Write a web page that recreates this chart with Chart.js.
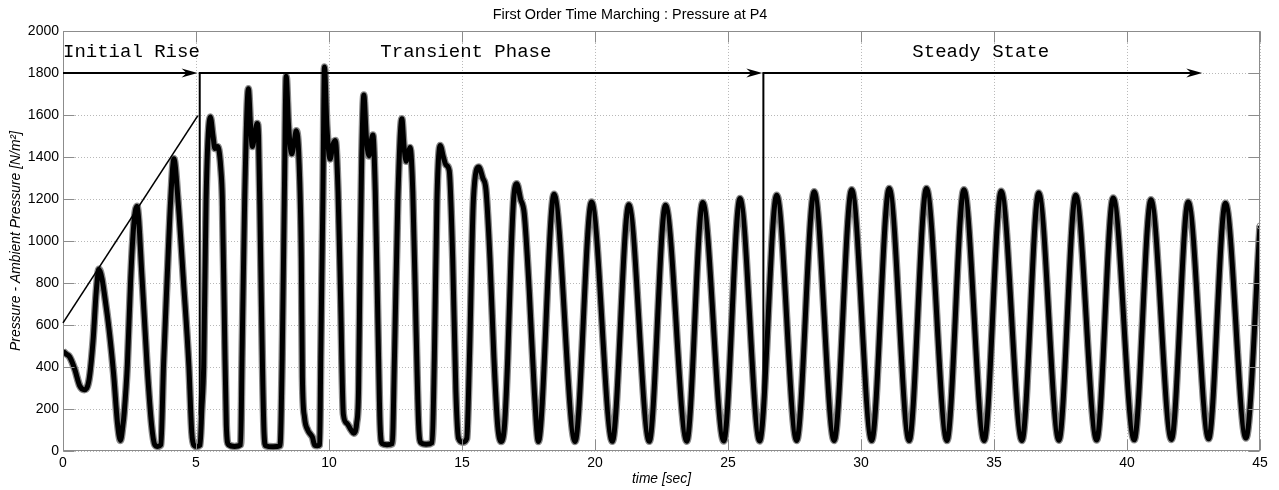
<!DOCTYPE html>
<html>
<head>
<meta charset="utf-8">
<script src="https://cdn.jsdelivr.net/npm/chart.js@4.4.1/dist/chart.umd.min.js"></script>
<style>
html,body{margin:0;padding:0;background:#fff;}
#wrap{width:1279px;height:490px;}
</style>
</head>
<body>
<div id="wrap"><canvas id="c" width="1279" height="490"></canvas></div>
<script>
// ---- data (time in sec, pressure in N/m^2) ----
const time = [
  0.00, 0.12, 0.25, 0.44, 0.63, 0.80, 0.98, 1.13, 1.25, 1.35,
  1.63, 1.90, 2.05, 2.16, 2.25, 2.30, 2.42, 2.54, 2.66, 2.78,
  2.98, 3.16, 3.33, 3.45, 3.56, 3.68, 3.78, 3.91, 4.05, 4.17,
  4.32, 4.53, 4.73, 4.84, 4.92, 5.03, 5.15, 5.22, 5.29, 5.38,
  5.54, 5.64, 5.71, 5.80, 5.86, 5.93, 5.99, 6.07, 6.14, 6.22,
  6.45, 6.68, 6.73, 6.83, 6.97, 7.05, 7.12, 7.20, 7.30, 7.35,
  7.42, 7.50, 7.56, 7.62, 7.90, 8.16, 8.24, 8.32, 8.39, 8.48,
  8.60, 8.70, 8.77, 8.87, 8.96, 9.00, 9.08, 9.20, 9.30, 9.38,
  9.46, 9.56, 9.65, 9.69, 9.77, 9.83, 9.92, 10.04, 10.15, 10.24,
  10.34, 10.43, 10.54, 10.67, 10.83, 10.93, 11.04, 11.11, 11.17, 11.23,
  11.31, 11.40, 11.50, 11.58, 11.65, 11.74, 11.84, 11.92, 12.00, 12.18,
  12.38, 12.46, 12.59, 12.74, 12.82, 12.90, 12.98, 13.05, 13.15, 13.27,
  13.37, 13.45, 13.65, 13.88, 13.96, 14.06, 14.18, 14.30, 14.40, 14.52,
  14.65, 14.77, 14.87, 15.03, 15.18, 15.28, 15.43, 15.63, 15.78, 15.90,
  16.05, 16.20, 16.34, 16.47, 16.60, 16.72, 16.84, 16.94, 17.06, 17.20,
  17.34, 17.53, 17.72, 17.87, 18.46, 19.25, 19.87, 20.65, 21.27, 22.04,
  22.65, 23.45, 24.05, 24.84, 25.45, 26.19, 26.83, 27.58, 28.24, 28.99,
  29.65, 30.40, 31.06, 31.81, 32.46, 33.23, 33.87, 34.63, 35.27, 36.05,
  36.68, 37.44, 38.07, 38.86, 39.48, 40.27, 40.90, 41.67, 42.30, 43.07,
  43.70, 44.47, 45.00
];
const pressure = [
  475, 462, 448, 390, 310, 292, 340, 525, 760, 865,
  680, 370, 130, 50, 120, 180, 410, 806, 1076, 1165,
  806, 410, 124, 30, 22, 30, 410, 806, 1200, 1392,
  1200, 806, 410, 90, 28, 22, 28, 200, 410, 1200,
  1590, 1500, 1440, 1450, 1435, 1350, 1200, 600, 124, 30,
  22, 30, 440, 1200, 1725, 1550, 1450, 1500, 1560, 1500,
  1000, 400, 80, 25, 20, 25, 440, 1200, 1785, 1550,
  1415, 1480, 1525, 1390, 918, 350, 160, 100, 80, 65,
  28, 25, 30, 440, 1200, 1828, 1550, 1390, 1460, 1478,
  1235, 760, 175, 132, 100, 85, 132, 283, 918, 1394,
  1695, 1500, 1405, 1470, 1505, 1235, 600, 124, 35, 30,
  35, 440, 1200, 1582, 1450, 1380, 1420, 1445, 1235, 600,
  124, 40, 32, 40, 440, 1200, 1455, 1400, 1362, 1335,
  918, 283, 60, 42, 60, 440, 1200, 1352, 1300, 1245,
  918, 443, 124, 45, 124, 443, 918, 1200, 1272, 1200,
  1130, 759, 283, 45, 1222, 45, 1186, 46, 1172, 46,
  1170, 47, 1183, 48, 1202, 48, 1218, 50, 1234, 50,
  1244, 50, 1250, 50, 1250, 50, 1244, 50, 1237, 50,
  1228, 51, 1218, 52, 1205, 53, 1196, 55, 1186, 58,
  1180, 62, 1072
];
const xTicks = [0, 5, 10, 15, 20, 25, 30, 35, 40, 45];
const yTicks = [0, 200, 400, 600, 800, 1000, 1200, 1400, 1600, 1800, 2000];
const phaseNames = ['Initial Rise', 'Transient Phase', 'Steady State'];
const phaseTextTime = [0, 11.93, 31.93];
const phaseTextLevel = 1878;
const arrowLevel = 1800;
const arrowStart = [0, 5.14, 26.33];
const arrowEnd = [5.06, 26.29, 42.83];
const dividerTime = [5.14, 26.33];
const dividerBottom = [170, 200];
const riseTime = [0, 5.07];
const riseLevel = [610, 1597];

const pts = time.map((t, i) => ({x: t, y: pressure[i]}));

const SANS = "Arial, 'Liberation Sans', sans-serif";
const MONO = "'Courier New', 'Liberation Mono', monospace";

const framePlugin = {
  id: 'frame',
  beforeDatasetsDraw(chart) {
    const {ctx, chartArea: a, scales: {x, y}} = chart;
    ctx.save();
    ctx.strokeStyle = '#b8b8b8';
    ctx.lineWidth = 1;
    ctx.setLineDash([1, 2]);
    xTicks.forEach(v => {
      const px = Math.round(x.getPixelForValue(v)) + 0.5;
      ctx.beginPath(); ctx.moveTo(px, a.top); ctx.lineTo(px, a.bottom); ctx.stroke();
    });
    yTicks.forEach(v => {
      const py = Math.round(y.getPixelForValue(v)) + 0.5;
      ctx.beginPath(); ctx.moveTo(a.left, py); ctx.lineTo(a.right, py); ctx.stroke();
    });
    ctx.restore();
  },
  afterDatasetsDraw(chart) {
    const {ctx, chartArea: a, scales: {x, y}} = chart;
    ctx.save();
    // box and inward ticks
    ctx.strokeStyle = '#8c8c8c';
    ctx.lineWidth = 1;
    const L = Math.round(a.left) + 0.5, R = Math.round(a.right) - 0.5;
    const T = Math.round(a.top) + 0.5, B = Math.round(a.bottom) - 0.5;
    ctx.strokeRect(L, T, R - L, B - T);
    const tl = 11;
    ctx.beginPath();
    xTicks.forEach(v => {
      const px = Math.round(x.getPixelForValue(v)) + 0.5;
      ctx.moveTo(px, B); ctx.lineTo(px, B - tl);
      ctx.moveTo(px, T); ctx.lineTo(px, T + tl);
    });
    yTicks.forEach(v => {
      const py = Math.round(y.getPixelForValue(v)) + 0.5;
      ctx.moveTo(L, py); ctx.lineTo(L + tl, py);
      ctx.moveTo(R, py); ctx.lineTo(R - tl, py);
    });
    ctx.stroke();
    // annotations
    ctx.strokeStyle = '#000';
    ctx.fillStyle = '#000';
    ctx.lineWidth = 2;
    const ay = y.getPixelForValue(arrowLevel);
    arrowStart.forEach((s, i) => {
      const x0 = x.getPixelForValue(s), x1 = x.getPixelForValue(arrowEnd[i]);
      ctx.beginPath(); ctx.moveTo(x0, ay); ctx.lineTo(x1 - 8, ay); ctx.stroke();
      ctx.beginPath();
      ctx.moveTo(x1, ay);
      ctx.lineTo(x1 - 16, ay - 4.5);
      ctx.lineTo(x1 - 11, ay);
      ctx.lineTo(x1 - 16, ay + 4.5);
      ctx.closePath(); ctx.fill();
    });
    dividerTime.forEach((t, i) => {
      const px = x.getPixelForValue(t);
      ctx.beginPath(); ctx.moveTo(px, ay - 1); ctx.lineTo(px, y.getPixelForValue(dividerBottom[i])); ctx.stroke();
    });
    ctx.lineWidth = 1.6;
    ctx.beginPath();
    ctx.moveTo(x.getPixelForValue(riseTime[0]), y.getPixelForValue(riseLevel[0]));
    ctx.lineTo(x.getPixelForValue(riseTime[1]), y.getPixelForValue(riseLevel[1]));
    ctx.stroke();
    ctx.font = '19px ' + MONO;
    ctx.textAlign = 'left';
    ctx.textBaseline = 'alphabetic';
    phaseNames.forEach((n, i) => {
      ctx.fillText(n, x.getPixelForValue(phaseTextTime[i]), y.getPixelForValue(phaseTextLevel));
    });
    ctx.restore();
  }
};

new Chart(document.getElementById('c'), {
  type: 'line',
  data: {
    datasets: [
      {
        data: pts, borderColor: '#8a8a8a', borderWidth: 7.5, pointRadius: 0,
        cubicInterpolationMode: 'monotone', fill: false, order: 2
      },
      {
        data: pts, borderColor: '#000', borderWidth: 5,
        pointRadius: c => (c.dataIndex === pts.length - 1 ? 3 : 0),
        pointBackgroundColor: 'rgba(0,0,0,0)', pointBorderColor: '#888', pointBorderWidth: 1,
        cubicInterpolationMode: 'monotone', fill: false, order: 1
      }
    ]
  },
  options: {
    responsive: false,
    animation: false,
    events: [],
    layout: {padding: {left: 0, right: 19, top: 0, bottom: 0}},
    plugins: {
      legend: {display: false},
      tooltip: {enabled: false},
      title: {
        display: true,
        text: 'First Order Time Marching : Pressure at P4',
        color: '#000',
        font: {family: SANS, size: 14.4, weight: 'normal', lineHeight: 1.2},
        padding: {top: 6.5, bottom: 7.2}
      }
    },
    scales: {
      x: {
        type: 'linear', min: 0, max: 45,
        afterBuildTicks: s => { s.ticks = xTicks.map(v => ({value: v})); },
        afterFit: s => { s.height = 39; },
        grid: {display: false, drawTicks: false},
        border: {display: false},
        ticks: {color: '#000', font: {family: SANS, size: 14}, padding: 4, maxRotation: 0, autoSkip: false,
                callback: v => String(v)},
        title: {display: true, text: 'time [sec]', color: '#000',
                font: {family: SANS, size: 13.8, style: 'italic'}, padding: {top: 0, bottom: 3}}
      },
      y: {
        type: 'linear', min: 0, max: 2000,
        afterBuildTicks: s => { s.ticks = yTicks.map(v => ({value: v})); },
        afterFit: s => { s.width = 63; },
        grid: {display: false, drawTicks: false},
        border: {display: false},
        ticks: {color: '#000', font: {family: SANS, size: 14}, padding: 4, autoSkip: false,
                callback: v => String(v)},
        title: {display: true, text: 'Pressure - Ambient Pressure [N/m²]', color: '#000',
                font: {family: SANS, size: 13.9, style: 'italic'}, padding: {top: 8, bottom: 0}}
      }
    }
  },
  plugins: [framePlugin]
});
</script>
</body>
</html>
